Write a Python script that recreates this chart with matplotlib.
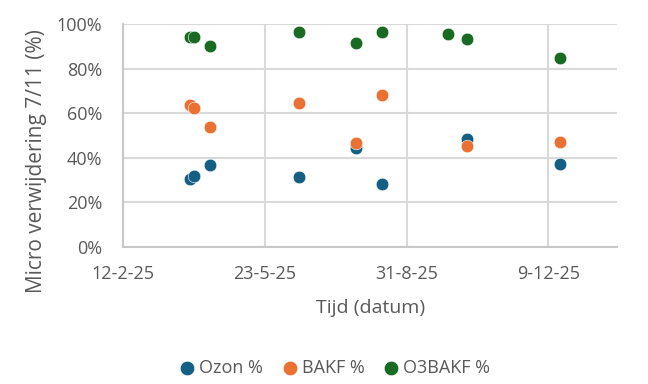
import matplotlib
matplotlib.use("Agg")
import matplotlib.pyplot as plt
import numpy as np
import datetime as dt

plt.rcParams['font.family'] = ['Open Sans', 'DejaVu Sans']

# Data
dates_ab = ['2025-03-31', '2025-04-03', '2025-04-14', '2025-06-16',
            '2025-07-26', '2025-08-14', '2025-10-13', '2025-12-17']
ozon = [30.3, 31.8, 36.6, 31.5, 44.5, 28.1, 48.3, 37.2]
bakf = [63.6, 62.2, 53.7, 64.8, 46.8, 68.2, 45.3, 47.1]
dates_o3 = ['2025-03-31', '2025-04-03', '2025-04-14', '2025-06-16',
            '2025-07-26', '2025-08-14', '2025-09-29', '2025-10-13', '2025-12-17']
o3bakf = [94.4, 94.4, 90.4, 96.4, 91.5, 96.4, 95.5, 93.4, 84.7]

tick_dates = ['2025-02-12', '2025-05-23', '2025-08-31', '2025-12-09']
tick_labels = ['12-2-25', '23-5-25', '31-8-25', '9-12-25']
series_names = ['Ozon %', 'BAKF %', 'O3BAKF %']
colors = ['#156082', '#E97132', '#196B24']

to_dt = lambda lst: [dt.datetime.strptime(d, '%Y-%m-%d') for d in lst]

W, H = 648, 384
fig = plt.figure(figsize=(W / 100, H / 100), dpi=100)
ax = fig.add_axes([123.3 / W, 1 - 246.7 / H, (617 - 123.3) / W, (246.7 - 24.3) / H])

grid_c = '#D9D9D9'
text_c = '#595959'

for d_list, vals, name, c in [(dates_ab, ozon, series_names[0], colors[0]),
                              (dates_ab, bakf, series_names[1], colors[1]),
                              (dates_o3, o3bakf, series_names[2], colors[2])]:
    ax.scatter(to_dt(d_list), np.array(vals) / 100, s=82, color=c,
               edgecolors='white', linewidths=0.4, label=name, zorder=3)

xmin = dt.datetime(2025, 2, 12)
ax.set_xlim(xmin, xmin + dt.timedelta(days=348.6))
ax.set_ylim(0, 1.0)
ax.set_xticks(to_dt(tick_dates))
ax.set_xticklabels(tick_labels)
yt = np.arange(0, 1.01, 0.2)
ax.set_yticks(yt)
ax.set_yticklabels([f'{int(round(v*100))}%' for v in yt])

ax.grid(True, color=grid_c, linewidth=1.5, zorder=0)
ax.set_axisbelow(True)
for s in ['top', 'right']:
    ax.spines[s].set_visible(False)
for s in ['left', 'bottom']:
    ax.spines[s].set_color('#C8C8C8')
    ax.spines[s].set_linewidth(1.5)
ax.tick_params(axis='both', length=0, labelsize=13, colors=text_c)
ax.tick_params(axis='x', pad=13)
ax.tick_params(axis='y', pad=15)

fig.text(371 / W, 1 - 308 / H, 'Tijd (datum)', fontsize=14, color=text_c,
         ha='center', va='center')
fig.text(37 / W, 1 - 161 / H, 'Micro verwijdering 7/11 (%)', fontsize=15,
         color=text_c, ha='center', va='center', rotation=90)

leg = fig.legend(loc='center', bbox_to_anchor=(335 / W, 1 - 368 / H), ncol=3,
                 frameon=False, fontsize=13, labelcolor=text_c, scatterpoints=1,
                 markerscale=1.15, handlelength=0.8, handletextpad=0.25,
                 columnspacing=1.08)

fig.savefig('out.png', dpi=100)
